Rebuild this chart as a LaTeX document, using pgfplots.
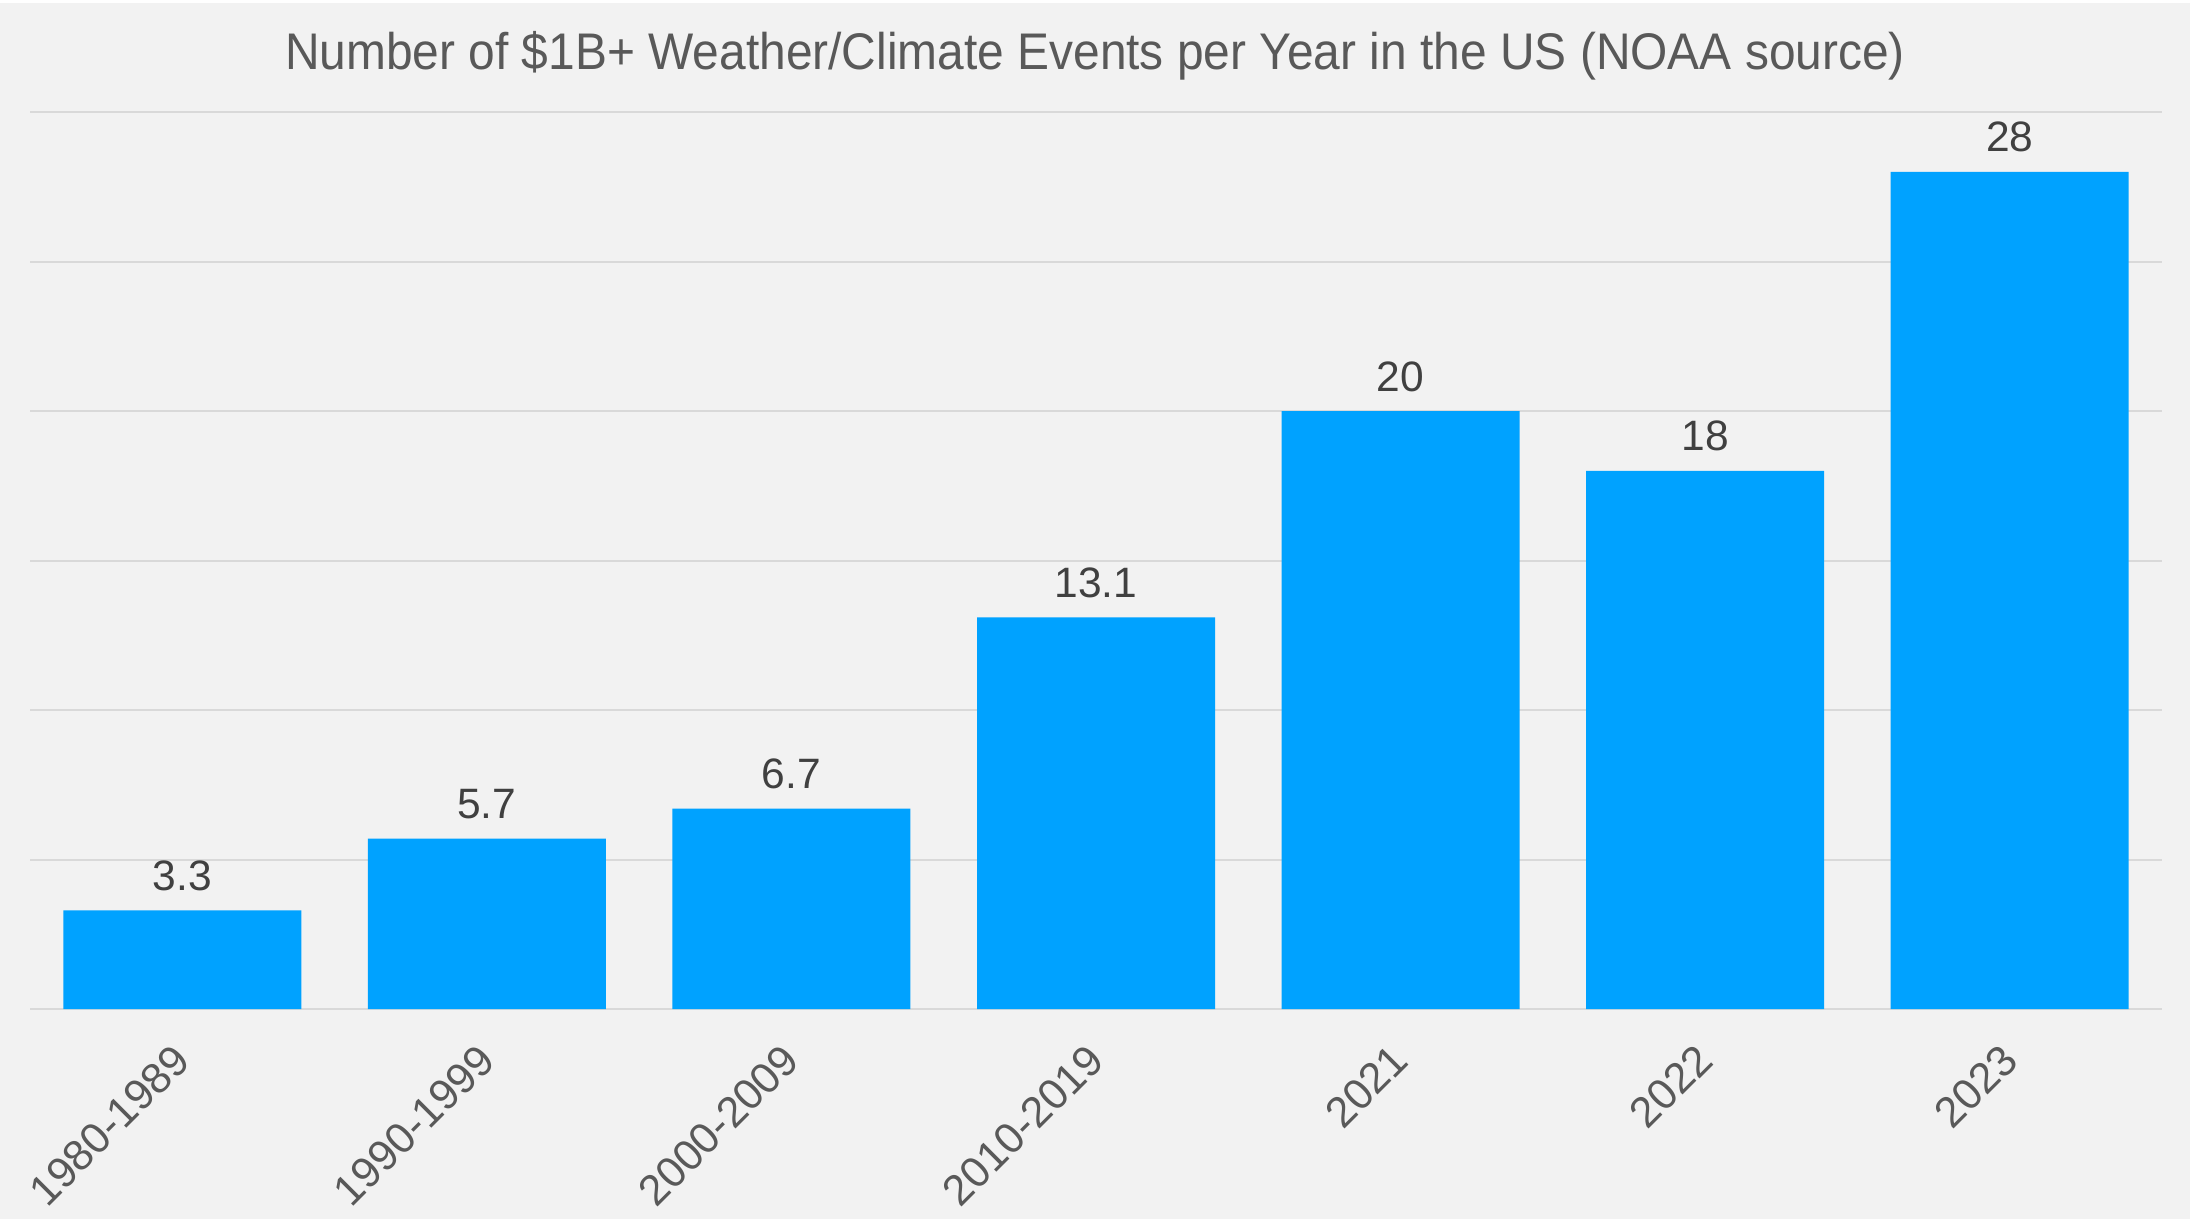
\documentclass[border=0pt]{standalone}
\usepackage{fontspec}
\setmainfont{Liberation Sans}
\usepackage{graphicx}
\usepackage{pgfplots}
\pgfplotsset{compat=1.18}

\definecolor{bgc}{HTML}{F2F2F2}
\definecolor{gridc}{HTML}{D9D9D9}
\definecolor{barc}{HTML}{00A2FF}
\definecolor{titlec}{HTML}{595959}
\definecolor{valc}{HTML}{404040}

\begin{document}
\begin{tikzpicture}[x=1pt,y=1pt]
% chart background
\fill[bgc] (-6,-42) rectangle (432,201.8);
\fill[white] (-6,201.2) rectangle (432,201.8);
\useasboundingbox (-6,-42) rectangle (432,201.8);

\node[anchor=base, font=\fontsize{10.3}{12}\selectfont, text=titlec]
  at (213,187.8) {\scalebox{0.93}[1]{Number of \$1B+ Weather/Climate Events per Year in the US (NOAA source)}};

\begin{axis}[
  at={(0,0)}, anchor=south west,
  scale only axis,
  width=426.4pt, height=179.4pt,
  xmin=-0.5, xmax=6.5,
  ymin=0, ymax=30,
  ytick={0,5,...,30},
  yticklabels={},
  ymajorgrids,
  grid style={gridc, line width=0.4pt},
  axis line style={draw=none},
  major tick length=0pt,
  xtick={0,...,6},
  xticklabels={1980-1989,1990-1999,2000-2009,2010-2019,2021,2022,2023},
  xticklabel style={xshift=-2.2pt, yshift=-6.3pt, rotate=45,
    anchor=north east, inner sep=0pt,
    font=\fontsize{8.6}{10}\selectfont, text=titlec},
  /pgf/number format/assume math mode=true,
  ybar, bar width=47.6pt,
  nodes near coords,
  every node near coord/.append style={anchor=base, inner sep=0pt,
    yshift=4pt, font=\fontsize{8.5}{10}\selectfont, text=valc},
  clip=false,
]
\addplot[fill=barc, draw=none] coordinates {
  (0,3.3) (1,5.7) (2,6.7) (3,13.1) (4,20) (5,18) (6,28)
};
\end{axis}
\end{tikzpicture}
\end{document}
